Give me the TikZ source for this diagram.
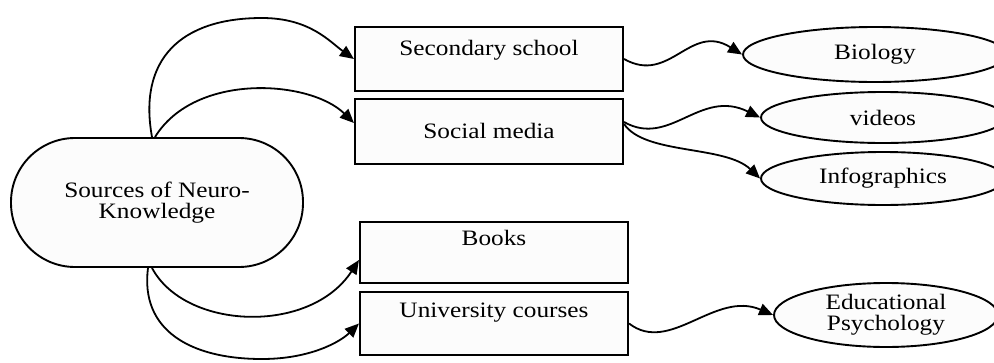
\documentclass[tikz,border=0pt]{standalone}
\usepackage{fontspec}
\setmainfont{Liberation Serif}[FakeStretch=1.15]
\usetikzlibrary{arrows.meta,calc,shapes.geometric}
\tikzset{
  srcbox/.style={draw, line width=1.9pt, fill=black!1, rounded corners=64pt,
    minimum width=292pt, minimum height=129pt, align=center, inner sep=0pt},
  catbox/.style={draw, line width=2.1pt, fill=black!1, rectangle, inner sep=0pt,
    minimum width=268pt},
  leaf/.style={draw, line width=1.9pt, fill=black!1, ellipse, inner sep=0pt, align=center},
  conn/.style={draw, line width=1.8pt, -{Triangle[length=14pt,width=12pt]}}
}
\begin{document}
\begin{tikzpicture}[x=1pt,y=-1pt,font=\fontsize{22}{20.7}\selectfont]
\useasboundingbox (0,0) rectangle (994,362);
\clip (0,0) rectangle (994,362);

\node[srcbox] (S) at (157,202.5) {Sources of Neuro-\\Knowledge};

\node[catbox, text height=28pt, text depth=36pt] (SS) at (489,59) {Secondary school};
\node[catbox, text height=39pt, text depth=26pt] (SM) at (489,131.5) {Social media};
\node[catbox, text height=23pt, text depth=38pt] (BK) at (494,252.5) {Books};
\node[catbox, text height=25pt, text depth=38pt] (UC) at (494,323.5) {University courses};

\node[leaf, minimum width=264pt, minimum height=55pt] (BIO) at (875,54.5) {Biology};
\node[leaf, minimum width=244pt, minimum height=51pt] (VID) at (883,117.5) {videos};
\node[leaf, minimum width=244pt, minimum height=53pt] (INF) at (883,178.5) {Infographics};
\node[leaf, minimum width=224pt, minimum height=64pt] (EDU) at (886,315) {Educational\\Psychology};

% from the source to the categories
\draw[conn] ([xshift=-5pt]S.north) .. controls (138,60) and (180,18) .. (262,18)
  .. controls (310,18) and (330,42) .. (SS.west);
\draw[conn] ([xshift=-2pt]S.north) .. controls (195,72) and (310,80) .. ([yshift=8.5pt]SM.west);
\draw[conn] ([xshift=-5pt]S.south) .. controls (185,330) and (310,335) .. ([yshift=-7.5pt]BK.west);
\draw[conn] ([xshift=-9pt]S.south) .. controls (140,330) and (190,359) .. (262,359)
  .. controls (310,359) and (340,342) .. (UC.west);

% from the categories to the leaves
\draw[conn] (SS.east) .. controls (670,85) and (690,22) .. (BIO.west);
\draw[conn] ([yshift=9.5pt]SM.east) .. controls (670,148) and (700,88) .. (VID.west);
\draw[conn] ([yshift=7.5pt]SM.east) .. controls (645,155) and (725,145) .. (INF.west);
\draw[conn] (UC.east) .. controls (670,355) and (715,290) .. (EDU.west);
\end{tikzpicture}
\end{document}
